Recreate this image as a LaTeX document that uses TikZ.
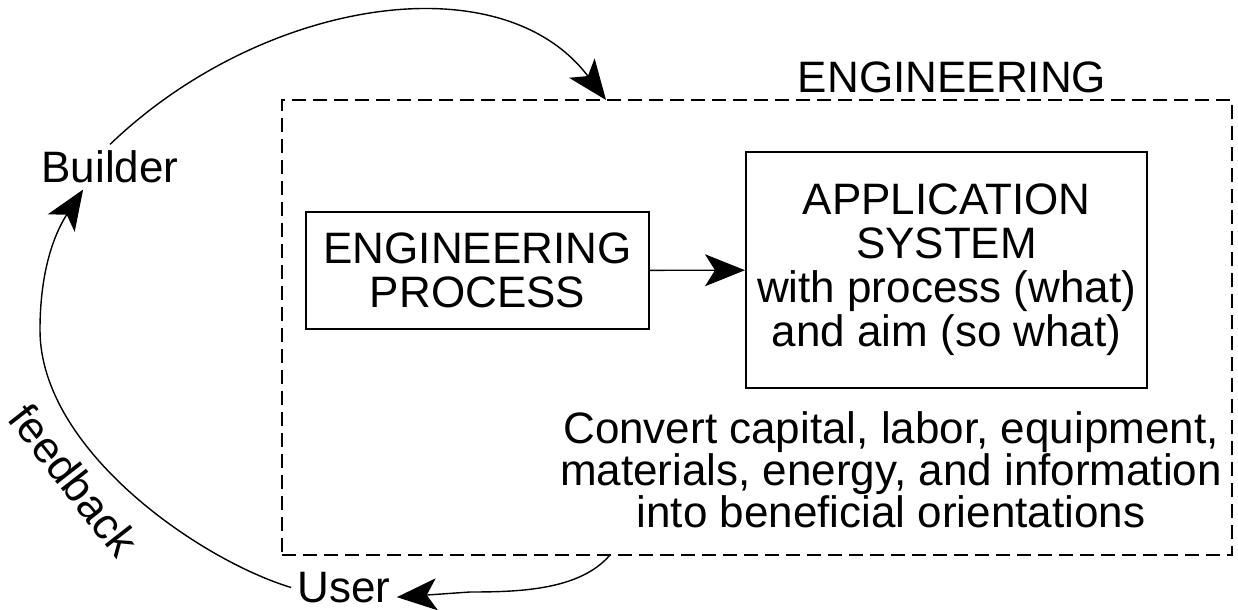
\documentclass[tikz,border=0pt]{standalone}
\usepackage{fontspec}
\setmainfont{Liberation Sans}
\usetikzlibrary{arrows.meta}

\begin{document}
\begin{tikzpicture}[
    x = 0.5pt,
    y = -0.5pt,
    >={Stealth[length=20pt, width=16pt, inset=5pt]},
    every node/.style = {font=\fontsize{22}{22}\selectfont, inner sep=3pt},
    unitbox/.style = {draw, line width=1pt, align=center, inner sep=0pt},
    frame/.style = {draw, line width=0.9pt, dash pattern=on 7pt off 3.5pt,
    minimum width=475pt, minimum height=227.5pt, inner sep=0pt},
    flow/.style = {->, line width=0.7pt},
]

\useasboundingbox (0,0) rectangle (1238,610);

\node[frame] (engframe) at (757,327.5){};
\node (engtitle) at (952,77){ENGINEERING};

\node[unitbox, minimum width=171.5pt, minimum height=58.5pt] (process) at (477.5,270.5){ENGINEERING\\PROCESS};
\node[unitbox, minimum width=200.5pt, minimum height=118pt] (appsys) at (946.5,270){APPLICATION\\SYSTEM\\with process (what)\\and aim (so what)};
\node[align=center, font=\fontsize{22}{21}\selectfont] (convert) at (891,470){Convert capital, labor, equipment,\\materials, energy, and information\\into beneficial orientations};

\node (builder) at (110,167){Builder};
\node (user) at (344,587.5){User};
\node[rotate=-52] (feedlabel) at (74,480){feedback};

\coordinate (intake) at (606,100);
\coordinate (outlet) at (610,555);
\coordinate (turn) at (40,330);

\draw [flow] (process) -- (appsys);
\draw [flow] (builder.north) .. controls (260,0) and (500,-40) .. (intake);
\draw [flow] (outlet) .. controls (580,590) and (520,592) .. (470,592) -- (user.mid east);
\draw [flow] (user.west) .. controls (200,560) and (40,450) .. (turn)
    .. controls (40,260) and (60,225) .. (builder.-140);

\end{tikzpicture}
\end{document}
